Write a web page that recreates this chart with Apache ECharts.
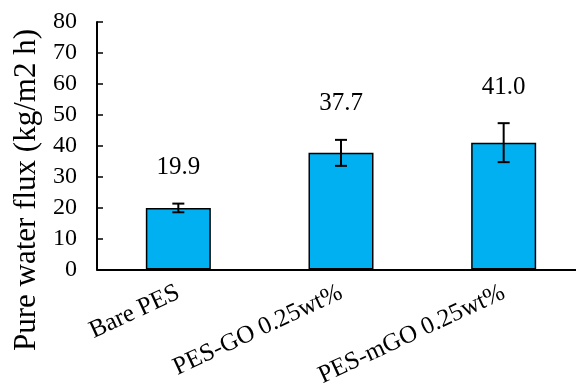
<!DOCTYPE html>
<html>
<head>
<meta charset="utf-8">
<script src="https://cdn.jsdelivr.net/npm/echarts@6/dist/echarts.min.js"></script>
<style>html,body{margin:0;padding:0;background:#fff;}#c{width:576px;height:385px;}</style>
</head>
<body>
<div id="c"></div>
<script>
var categories = ['Bare PES', 'PES-GO 0.25wt%', 'PES-mGO 0.25wt%'];
var fluxValues = [19.9, 37.7, 41.0];
var fluxErrors = [1.4, 4.2, 6.3];
var yTicks = [0, 10, 20, 30, 40, 50, 60, 70, 80];
var yTitle = 'Pure water flux (kg/m2 h)';

var FONT = '"Times New Roman", "Liberation Serif", serif';
var chart = echarts.init(document.getElementById('c'), null, {renderer: 'canvas'});

var errData = fluxValues.map(function (v, i) {
  return [i, v - fluxErrors[i], v + fluxErrors[i], v];
});

chart.setOption({
  animation: false,
  backgroundColor: '#fff',
  grid: {left: 97, top: 22, width: 488, bottom: 115.5, containLabel: false, outerBoundsMode: 'none'},
  xAxis: {
    type: 'category',
    data: categories,
    boundaryGap: true,
    axisLine: {lineStyle: {color: '#000', width: 2}},
    axisTick: {inside: true, length: 6, lineStyle: {color: '#000', width: 1.5}},
    axisLabel: {rotate: 25, margin: 22, color: '#000', fontFamily: FONT, fontSize: 25, interval: 0}
  },
  yAxis: {
    type: 'value',
    min: yTicks[0],
    max: yTicks[yTicks.length - 1],
    interval: 10,
    splitLine: {show: false},
    axisLine: {show: true, lineStyle: {color: '#000', width: 2}},
    axisTick: {show: true, inside: true, length: 6, lineStyle: {color: '#000', width: 1.5}},
    axisLabel: {margin: 20, color: '#000', fontFamily: FONT, fontSize: 24}
  },
  graphic: [{
    type: 'text',
    x: 27, y: 190,
    rotation: Math.PI / 2,
    style: {text: yTitle, font: '31px ' + FONT, fill: '#000', textAlign: 'center', textVerticalAlign: 'middle'}
  }],
  series: [{
    type: 'bar',
    data: fluxValues,
    barWidth: 65,
    itemStyle: {color: '#00B0F0', borderColor: '#000', borderWidth: 1.5}
  }, {
    type: 'custom',
    data: errData,
    z: 10,
    renderItem: function (params, api) {
      var x = api.coord([api.value(0), 0])[0];
      var lo = api.coord([api.value(0), api.value(1)])[1];
      var hi = api.coord([api.value(0), api.value(2)])[1];
      var cap = 6;
      var ls = {stroke: '#000', lineWidth: 2};
      return {
        type: 'group',
        children: [
          {type: 'line', shape: {x1: x, y1: lo, x2: x, y2: hi}, style: ls},
          {type: 'line', shape: {x1: x - cap, y1: lo, x2: x + cap, y2: lo}, style: ls},
          {type: 'line', shape: {x1: x - cap, y1: hi, x2: x + cap, y2: hi}, style: ls},
          {type: 'text', x: x, y: hi - 36, style: {text: api.value(3).toFixed(1), font: '25px ' + FONT, fill: '#000', textAlign: 'center', textVerticalAlign: 'middle'}}
        ]
      };
    }
  }]
});
</script>
</body>
</html>
